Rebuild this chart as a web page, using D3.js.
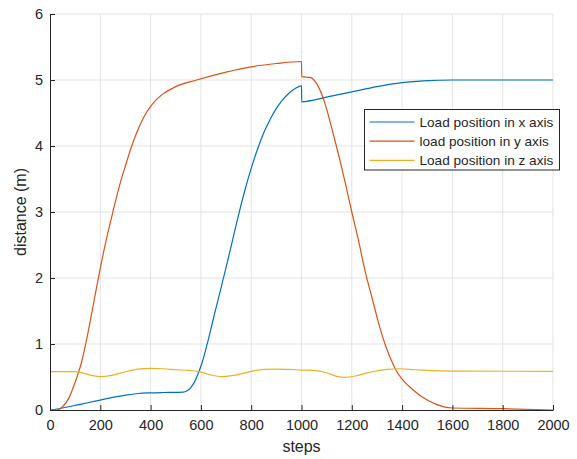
<!DOCTYPE html>
<html>
<head>
<meta charset="utf-8">
<script src="https://cdn.jsdelivr.net/npm/d3@7"></script>
<style>
  body { margin: 0; background: #fff; }
  text { font-family: "Liberation Sans", Arial, sans-serif; fill: #262626; }
</style>
</head>
<body>
<div id="chart"></div>
<script>
// load position in x axis
const xSteps  = [0, 50, 100, 150, 200, 250, 300, 350, 400, 450, 500, 530, 545, 560, 575, 590, 605, 625, 650, 675, 700, 725, 750, 775, 800, 825, 850, 875, 900, 925, 950, 975, 1000,
                 1001, 1100, 1200, 1300, 1400, 1500, 1600, 1800, 2000];
const xValues = [0, 0.03, 0.07, 0.11, 0.15, 0.19, 0.225, 0.25, 0.26, 0.265, 0.268, 0.27, 0.29, 0.34, 0.43, 0.56, 0.72, 1.0, 1.39, 1.77, 2.16, 2.56, 2.96, 3.33, 3.66, 3.95, 4.2, 4.4, 4.57, 4.7, 4.8, 4.87, 4.91,
                 4.67, 4.74, 4.82, 4.9, 4.96, 4.99, 5.0, 5.0, 5.0];

// load position in y axis
const ySteps  = [0, 27, 50, 75, 100, 125, 150, 175, 200, 225, 250, 275, 300, 325, 350, 375, 400, 425, 450, 500, 583, 700, 800, 900, 1000,
                 1001, 1033, 1067, 1093, 1119, 1146, 1173, 1200, 1226, 1252, 1279, 1305, 1332, 1372, 1445, 1500, 1563, 1600, 1800, 2000];
const yValues = [0, 0, 0.05, 0.18, 0.42, 0.72, 1.15, 1.65, 2.15, 2.6, 3.0, 3.38, 3.7, 4.0, 4.25, 4.45, 4.6, 4.71, 4.79, 4.9, 5.0, 5.12, 5.2, 5.25, 5.28,
                 5.05, 5.04, 4.9, 4.65, 4.29, 3.89, 3.46, 3.0, 2.58, 2.12, 1.72, 1.34, 1.0, 0.63, 0.3, 0.15, 0.05, 0.03, 0.02, 0.0];

// load position in z axis
const zSteps  = [0, 100, 130, 165, 200, 240, 300, 350, 400, 450, 500, 550, 600, 640, 685, 730, 806, 850, 900, 950, 1000, 1047, 1100, 1140, 1173, 1220, 1280, 1340, 1392, 1450, 1500, 1600, 2000];
const zValues = [0.58, 0.58, 0.56, 0.525, 0.505, 0.52, 0.58, 0.62, 0.63, 0.625, 0.61, 0.60, 0.575, 0.53, 0.505, 0.525, 0.59, 0.615, 0.62, 0.615, 0.605, 0.60, 0.565, 0.51, 0.495, 0.52, 0.58, 0.615, 0.625, 0.61, 0.60, 0.59, 0.585];

const legendLabels = ['Load position in x axis', 'load position in y  axis', 'Load position in z axis'];
const colors = ['#0072BD', '#D95319', '#EDB120'];
const xTicks = [0, 200, 400, 600, 800, 1000, 1200, 1400, 1600, 1800, 2000];
const yTicks = [0, 1, 2, 3, 4, 5, 6];

const zip = (s, v) => s.map((d, i) => [d, v[i]]);
const series = [zip(xSteps, xValues), zip(ySteps, yValues), zip(zSteps, zValues)];

const W = 577, H = 459;
const margin = {top: 14, right: 24, bottom: 49, left: 50};
const w = W - margin.left - margin.right;
const h = H - margin.top - margin.bottom;

const svg = d3.select('#chart').append('svg')
  .attr('width', W)
  .attr('height', H);

const g = svg.append('g')
  .attr('transform', `translate(${margin.left},${margin.top})`);

const xScale = d3.scaleLinear().domain([0, 2000]).range([0, w]);
const yScale = d3.scaleLinear().domain([0, 6]).range([h, 0]);

// grid
g.append('g').selectAll('line')
  .data(xTicks.slice(1))
  .enter().append('line')
    .attr('x1', d => xScale(d)).attr('x2', d => xScale(d))
    .attr('y1', 0).attr('y2', h)
    .attr('stroke', '#e3e3e3').attr('stroke-width', 1);
g.append('g').selectAll('line')
  .data(yTicks.slice(1))
  .enter().append('line')
    .attr('x1', 0).attr('x2', w)
    .attr('y1', d => yScale(d)).attr('y2', d => yScale(d))
    .attr('stroke', '#e3e3e3').attr('stroke-width', 1);

// lines
const line = d3.line()
  .x(d => xScale(d[0]))
  .y(d => yScale(d[1]))
  .curve(d3.curveMonotoneX);

g.append('g').selectAll('path')
  .data(series)
  .enter().append('path')
    .attr('d', d => line(d))
    .attr('fill', 'none')
    .attr('stroke', (d, i) => colors[i])
    .attr('stroke-width', 1.2);

// axes
const xAxis = d3.axisBottom(xScale).tickValues(xTicks).tickFormat(d3.format('d'))
  .tickSizeInner(-5).tickSizeOuter(0).tickPadding(10);
const yAxis = d3.axisLeft(yScale).tickValues(yTicks).tickFormat(d3.format('d'))
  .tickSizeInner(-5).tickSizeOuter(0).tickPadding(7);

const gx = g.append('g').attr('transform', `translate(0,${h})`).call(xAxis);
const gy = g.append('g').call(yAxis);
[gx, gy].forEach(a => {
  a.select('.domain').attr('stroke', '#262626').attr('stroke-width', 1);
  a.selectAll('.tick line').attr('stroke', '#262626');
  a.selectAll('.tick text').style('font-size', '14.5px').attr('fill', '#262626')
    .style('font-family', '"Liberation Sans", Arial, sans-serif');
});

g.append('text')
  .attr('x', w / 2).attr('y', h + 42)
  .attr('text-anchor', 'middle')
  .style('font-size', '16px')
  .text('steps');

g.append('text')
  .attr('transform', `translate(${-24},${h / 2}) rotate(-90)`)
  .attr('text-anchor', 'middle')
  .style('font-size', '16px')
  .text('distance (m)');

// legend
const leg = svg.append('g').attr('transform', 'translate(364.5,109.5)');
leg.append('rect')
  .attr('width', 195).attr('height', 60.5)
  .attr('fill', '#fff').attr('stroke', '#262626').attr('stroke-width', 1);
legendLabels.forEach((lab, i) => {
  const y = 12.5 + i * 19.2;
  leg.append('line')
    .attr('x1', 5).attr('x2', 50)
    .attr('y1', y).attr('y2', y)
    .attr('stroke', colors[i]).attr('stroke-width', 1.2);
  leg.append('text')
    .attr('x', 55).attr('y', y + 4.8)
    .style('font-size', '13.6px')
    .text(lab);
});
</script>
</body>
</html>
